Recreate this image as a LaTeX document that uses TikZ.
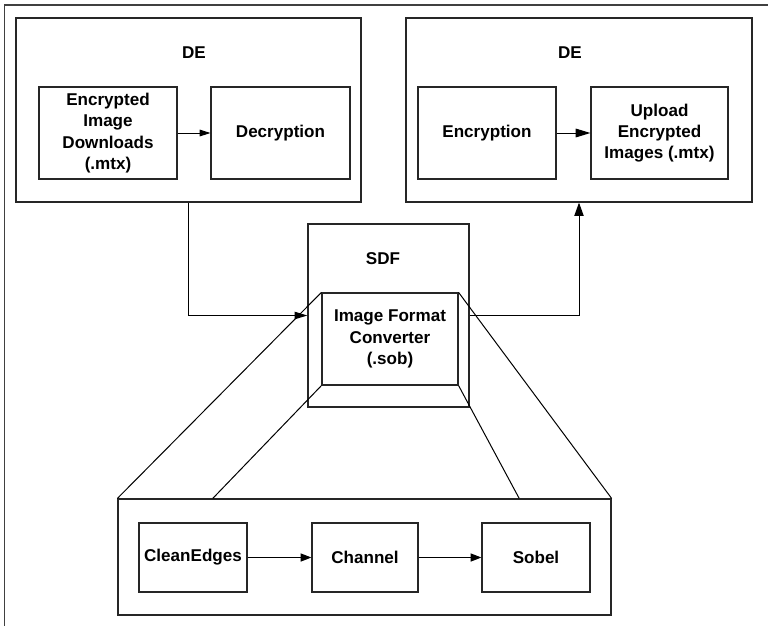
\documentclass[tikz,border=0pt]{standalone}
\usepackage{fontspec}
\setmainfont{Liberation Sans}
\usetikzlibrary{arrows.meta,calc}
\begin{document}
\begin{tikzpicture}[x=0.75pt,y=-0.75pt,
  box/.style={draw=black!85,line width=0.9pt,inner sep=0pt,align=center,fill=white,
    font=\bfseries\fontsize{12.8}{16}\selectfont},
  lbl/.style={inner sep=0pt,font=\bfseries\fontsize{12.8}{16}\selectfont},
  conn/.style={draw=black,line width=0.75pt},
  tipA/.style={-{Triangle[length=8pt,width=5pt]}},
  tipB/.style={-{Triangle[length=11pt,width=6.5pt]}},
  tipC/.style={-{Triangle[length=8pt,width=6pt]}},
  tipD/.style={-{Triangle[length=9.5pt,width=5.5pt]}},
  tipE/.style={-{Triangle[length=10pt,width=7pt]}}]
\useasboundingbox (0,0) rectangle (768,626);
% outer frame (top and left only visible)
\coordinate (fTL) at (4.5,5);
\coordinate (fTR) at (768,5);
\coordinate (fBL) at (4.5,626);
\draw[black!75,line width=1.1pt] (fTR) -- (fTL) -- (fBL);

% top left DE
\node[box,minimum width=258.75pt,minimum height=138pt] (de1) at (188.5,110) {};
\node[lbl] (de1l) at (194,53) {DE};
\node[box,minimum width=103.5pt,minimum height=69pt] (eid) at (108,133) {Encrypted\\Image\\Downloads\\(.mtx)};
\node[box,minimum width=104.25pt,minimum height=69pt] (dec) at (280.5,133) {Decryption};
\draw[conn,tipA] (eid) -- (dec);

% top right DE
\node[box,minimum width=259.5pt,minimum height=138pt] (de2) at (579,110) {};
\node[lbl] (de2l) at (570,53) {DE};
\node[box,minimum width=103.5pt,minimum height=69pt] (enc) at (487,133) {Encryption};
\node[box,minimum width=102.75pt,minimum height=69pt] (upl) at (659.5,133) {Upload\\Encrypted\\Images (.mtx)};
\draw[conn,tipB] (enc) -- (upl);

% bottom box
\node[box,minimum width=369.75pt,minimum height=87pt] (bot) at (364.5,557) {};
\node[box,minimum width=81pt,minimum height=51.75pt] (ce) at (193,557.5) {CleanEdges};
\node[box,minimum width=79.5pt,minimum height=51.75pt] (ch) at (365,557.5) {Channel};
\node[box,minimum width=81pt,minimum height=51.75pt] (so) at (536,557.5) {Sobel};
\draw[conn,tipC] (ce) -- (ch);
\draw[conn,tipC] (ch) -- (so);

% SDF
\node[box,minimum width=120.75pt,minimum height=137.25pt] (sdf) at (388.5,315.5) {};
\node[lbl] (sdfl) at (383,259) {SDF};
\node[box,minimum width=102pt,minimum height=69pt] (ifc) at (390,339) {Image Format\\Converter\\(.sob)};

% diagonals
\draw[conn] (ifc.north west) -- (bot.north west);
\draw[conn] (ifc.south west) -- ($(bot.north west)!0.193!(bot.north east)$);
\draw[conn] (ifc.south east) -- ($(bot.north west)!0.813!(bot.north east)$);
\draw[conn] (ifc.north east) -- (bot.north east);

% connectors between DE and SDF
\draw[conn,tipD] (de1.south) |- (sdf.west);
\draw[conn,tipE] (sdf.east) -| (de2.south);
\end{tikzpicture}
\end{document}
